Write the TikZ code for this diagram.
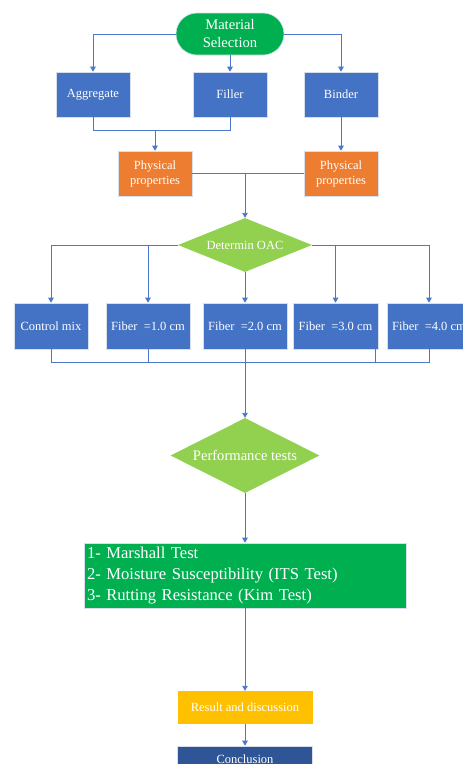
\documentclass[tikz,border=0pt]{standalone}
\usepackage{fontspec}
\setmainfont{Liberation Serif}
\usetikzlibrary{shapes.geometric,arrows.meta}
\definecolor{cblue}{HTML}{4472C4}
\definecolor{cline}{HTML}{4A78CC}
\definecolor{corange}{HTML}{ED7D31}
\definecolor{clgreen}{HTML}{92D050}
\definecolor{cdgreen}{HTML}{00B050}
\definecolor{cgold}{HTML}{FFC000}
\definecolor{cnavy}{HTML}{2F5597}
\definecolor{cedge}{RGB}{215,222,236}
\begin{document}
\begin{tikzpicture}[x=1pt,y=-1pt,
  base/.style={text=white,inner sep=0pt,align=center,font=\fontsize{12.5}{15}\selectfont},
  bbox/.style={base,rectangle,fill=cblue,draw=cedge,line width=0.6pt,minimum width=74pt,minimum height=45pt},
  fbox/.style={bbox,minimum width=84pt,minimum height=46pt},
  obox/.style={base,rectangle,fill=corange,draw=cedge,line width=0.6pt,minimum width=74pt,minimum height=45pt},
  dia/.style={base,shape=diamond,fill=clgreen,draw=none},
  conn/.style={draw=cline,line width=0.9pt},
  arr/.style={conn,-{Triangle[width=5.5pt,length=5pt]}}]
\useasboundingbox (0,0) rectangle (463,764);
\fill[white] (0,0) rectangle (463,764);

\node[base,fill=cdgreen,draw=cedge,line width=0.6pt,rounded corners=21pt,minimum width=108pt,minimum height=42pt,font=\fontsize{14.6}{18}\selectfont] (ms) at (230,34) {Material\\Selection};

\node[bbox] (agg) at (93,94.5) {Aggregate};
\node[bbox] (fil) at (230,94.5) {Filler};
\node[bbox] (bin) at (341,94.5) {Binder};

\node[obox] (pp1) at (155,173.5) {Physical\\properties};
\node[obox] (pp2) at (341,173.5) {Physical\\properties};

\node[dia,minimum width=134pt,minimum height=54pt,aspect=2.48] (oac) at (245,245) {Determin OAC};

\node[bbox,minimum height=46pt] (c0) at (51,326) {Control mix};
\node[fbox] (f1) at (148,326) {Fiber\ \ =1.0 cm};
\node[fbox] (f2) at (245,326) {Fiber\ \ =2.0 cm};
\node[fbox,minimum width=85pt] (f3) at (335.5,326) {Fiber\ \ =3.0 cm};
\node[fbox] (f4) at (429,326) {Fiber\ \ =4.0 cm};

\node[dia,minimum width=149pt,minimum height=75pt,aspect=2,font=\fontsize{14.6}{18}\selectfont] (perf) at (245,455.5) {Performance tests};

\node[base,rectangle,fill=cdgreen,draw=cedge,line width=0.6pt,minimum width=322pt,minimum height=65pt,text width=316pt,align=left,font=\fontsize{16.6}{21}\selectfont] (tests) at (245,575.5) {1- Marshall Test\\2- Moisture Susceptibility (ITS Test)\\3- Rutting Resistance (Kim Test)};

\node[base,rectangle,fill=cgold,minimum width=135pt,minimum height=33pt] (res) at (245,707.5) {Result and discussion};
\node[base,rectangle,fill=cnavy,draw=cedge,line width=0.6pt,minimum width=135pt,minimum height=26pt] (conc) at (245,759) {Conclusion};

% connectors
\draw[arr] (ms.west) -| (agg.north);
\draw[arr] (ms.south) -- (fil.north);
\draw[arr] (ms.east) -| (bin.north);

\coordinate (j1) at (155,130);
\draw[conn] (agg.south) |- (j1);
\draw[conn] (fil.south) |- (j1);
\draw[arr] (j1) -- (pp1.north);
\draw[arr] (bin.south) -- (pp2.north);

\coordinate (j2) at (245,173.5);
\draw[conn] (pp1.east) -- (pp2.west);
\draw[arr] (j2) -- (oac.north);

\draw[arr] (oac.west) -| (c0.north);
\draw[arr] (oac.west) -| (f1.north);
\draw[arr] (oac.south) -- (f2.north);
\draw[arr] (oac.east) -| (f3.north);
\draw[arr] (oac.east) -| (f4.north);

\coordinate (jb) at (245,362);
\coordinate (f3b) at (375,349);
\draw[conn] (c0.south) |- (jb);
\draw[conn] (f1.south) |- (jb);
\draw[conn] (f3b) |- (jb);
\draw[conn] (f4.south) |- (jb);
\draw[arr] (f2.south) -- (perf.north);

\draw[arr] (perf.south) -- (tests.north);
\draw[arr] (tests.south) -- (res.north);
\draw[arr] (res.south) -- (conc.north);
\end{tikzpicture}
\end{document}
